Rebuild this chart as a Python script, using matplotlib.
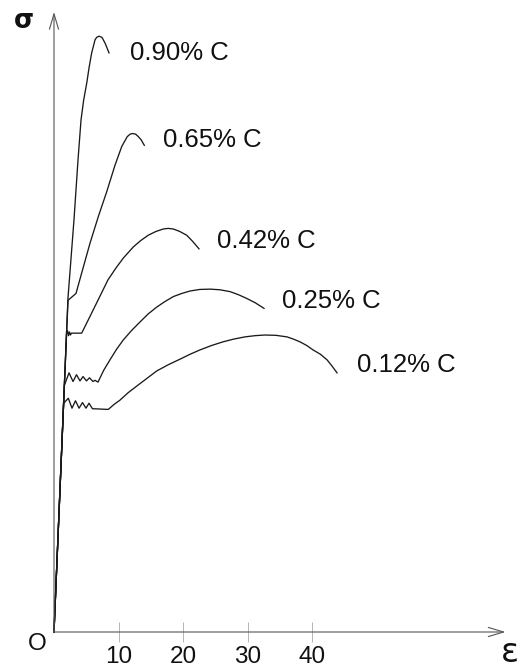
import matplotlib.pyplot as plt

# strain (%) and stress (arbitrary units), one pair of lists per steel
labels = ["0.90% C", "0.65% C", "0.42% C", "0.25% C", "0.12% C"]

eps_090 = [0, 2.17, 3.10, 3.72, 4.19, 4.60, 5.07, 5.45, 5.84, 6.36, 6.60, 6.98, 7.44, 7.91, 8.53]
sig_090 = [0, 53.9, 66.5, 76.1, 82.6, 85.8, 88.5, 91.1, 93.4, 95.5, 95.9, 96.1, 95.9, 95.0, 93.4]

eps_065 = [0, 2.17, 3.41, 4.29, 5.58, 6.87, 8.17, 9.46, 10.50, 11.36, 11.80, 12.20,
           12.65, 13.07, 13.50, 14.0]
sig_065 = [0, 53.5, 54.6, 57.9, 62.7, 67.0, 71.0, 75.3, 78.3, 79.9, 80.3, 80.4,
           80.3, 79.9, 79.4, 78.5]

eps_042 = [0, 1.94, 2.1, 2.25, 2.4, 2.55, 2.7, 4.29, 5.58, 7.0, 8.37, 9.6, 10.74,
           12.29, 13.4, 14.62, 15.8, 16.95, 17.7, 18.50, 19.5, 20.57, 21.5, 22.48]
sig_042 = [0, 48.1, 48.6, 47.8, 48.4, 47.9, 48.2, 48.2, 50.9, 53.9, 56.8, 58.7, 60.3,
           62.1, 63.1, 64.0, 64.6, 65.0, 65.1, 65.0, 64.6, 64.0, 63.0, 61.8]

eps_025 = [0, 1.61, 2.33, 2.95, 3.49, 4.03, 4.50, 5.04, 5.50, 6.05, 6.36, 6.82,
           7.7, 8.68, 9.7, 10.74, 12.0, 13.33, 14.6, 15.92, 17.2, 18.50, 19.8,
           21.09, 22.6, 24.19, 25.7, 27.29, 28.6, 29.88, 31.2, 32.56]
sig_025 = [0, 39.8, 41.8, 40.4, 41.5, 40.5, 41.2, 40.5, 41.0, 40.4, 40.6, 40.3,
           42.2, 43.9, 45.6, 47.1, 48.6, 50.0, 51.3, 52.4, 53.3, 54.1, 54.6,
           55.0, 55.25, 55.3, 55.2, 54.9, 54.4, 53.8, 53.1, 52.2]

eps_012 = [0, 1.49, 2.22, 2.79, 3.33, 3.88, 4.42, 4.96, 5.43, 5.97, 6.36, 8.42,
           9.3, 10.23, 11.5, 12.87, 14.4, 15.92, 17.7, 19.53, 21.1, 22.64, 24.4,
           26.20, 27.9, 29.61, 31.2, 32.71, 34.4, 36.12, 37.1, 38.14, 39.2,
           40.16, 41.3, 42.33, 43.1, 43.88]
sig_012 = [0, 36.9, 37.7, 36.1, 37.3, 36.1, 37.0, 36.1, 36.9, 36.0, 36.0, 35.9,
           36.7, 37.4, 38.6, 39.7, 40.9, 42.1, 43.1, 44.0, 44.8, 45.5, 46.2,
           46.8, 47.25, 47.6, 47.8, 47.9, 47.85, 47.6, 47.25, 46.8, 46.2,
           45.5, 44.8, 43.9, 42.9, 41.8]

curves = [(eps_090, sig_090), (eps_065, sig_065), (eps_042, sig_042),
          (eps_025, sig_025), (eps_012, sig_012)]

# where each label sits (left edge, baseline)
label_pos = [(11.78, 92.3), (16.9, 78.2), (25.27, 61.9), (35.35, 52.3), (46.98, 41.9)]

x_ticks = [10, 20, 30, 40]

plt.rcParams['font.family'] = ['Liberation Sans', 'DejaVu Sans']

fig = plt.figure(figsize=(5.18, 6.71), dpi=100)
ax = fig.add_axes([0, 0, 1, 1])
ax.set_xlim(-54 / 6.45, (518 - 54) / 6.45)
ax.set_ylim(-39 / 6.2, 632 / 6.2)

for (e, s), lab, (lx, ly) in zip(curves, labels, label_pos):
    ax.plot(e, s, color='#1a1a1a', lw=0.95, solid_joinstyle='round')
    ax.text(lx, ly, lab, fontsize=18.5, ha='left', va='baseline', color='#111')

# axes drawn as open arrows
arrow = dict(arrowstyle='->,head_length=1.1,head_width=0.33', color='#555',
             lw=0.8, mutation_scale=10, shrinkA=0, shrinkB=0)
ax.annotate('', xy=(0, 100), xytext=(0, 0), arrowprops=arrow)
ax.annotate('', xy=(70, 0), xytext=(0, 0), arrowprops=arrow)

for side in ['top', 'right', 'left', 'bottom']:
    ax.spines[side].set_visible(False)
ax.spines['bottom'].set_position(('data', 0))
ax.set_yticks([])
ax.set_xticks(x_ticks)
ax.set_xticklabels([str(t) for t in x_ticks])
ax.tick_params(axis='x', direction='inout', length=13.7, width=0.7,
               color='#b5b5b5', labelsize=17.5, pad=3, labelcolor='#111')

ax.text(-4.65, 97.4, 'σ', fontsize=18.5, ha='center', va='baseline',
        family=['DejaVu Sans'], fontweight='bold', color='#111')
ax.text(-2.56, -2.9, 'O', fontsize=17.5, ha='center', va='baseline', color='#111')
ax.text(70.7, -4.9, 'ε', fontsize=24, ha='center', va='baseline',
        family=['DejaVu Sans'], color='#111')

fig.savefig('out.png', dpi=100)
